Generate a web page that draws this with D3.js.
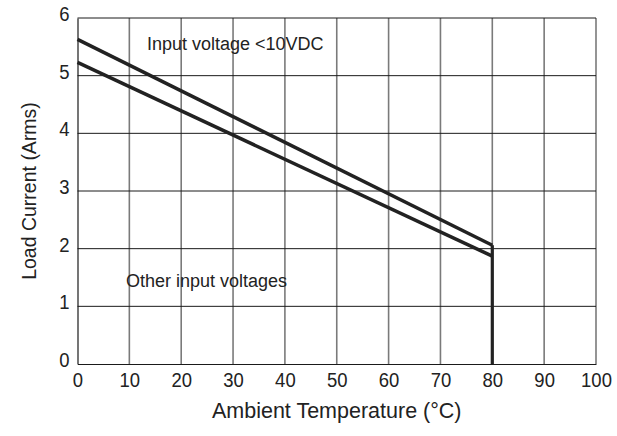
<!DOCTYPE html>
<html>
<head>
<meta charset="utf-8">
<script src="https://cdn.jsdelivr.net/npm/d3@7"></script>
<style>
  body { margin: 0; background: #fff; }
  svg text { font-family: "Liberation Sans", Arial, sans-serif; fill: #222; }
</style>
</head>
<body>
<svg id="chart" width="617" height="436"></svg>
<script>
// derating curves
const temps = [0, 80];
const lowVoltage = [5.63, 2.06];   // input voltage <10VDC
const otherVoltage = [5.23, 1.87]; // other input voltages
const xTicks = [0, 10, 20, 30, 40, 50, 60, 70, 80, 90, 100];
const yTicks = [0, 1, 2, 3, 4, 5, 6];

const margin = {top: 18, right: 21, bottom: 72, left: 77.5};
const width = 617, height = 436;

let svg = d3.select("#chart");

let x = d3.scaleLinear().domain([0, 100]).range([margin.left, width - margin.right]);
let y = d3.scaleLinear().domain([0, 6]).range([height - margin.bottom, margin.top]);

// vertical grid (gray)
svg.append("g")
  .selectAll("line")
  .data(xTicks.slice(1))
  .join("line")
  .attr("x1", d => x(d)).attr("x2", d => x(d))
  .attr("y1", y(0)).attr("y2", y(6))
  .attr("stroke", "#7a7a7a")
  .attr("stroke-width", 1.6);

// horizontal grid (dark)
svg.append("g")
  .selectAll("line")
  .data(yTicks.slice(1))
  .join("line")
  .attr("x1", x(0)).attr("x2", x(100))
  .attr("y1", d => y(d)).attr("y2", d => y(d))
  .attr("stroke", "#1a1a1a")
  .attr("stroke-width", 1);

// axes - tick labels are a narrow face, so squeeze them a bit
let xAxis = svg.append("g")
  .attr("transform", "translate(0," + y(0) + ")")
  .call(d3.axisBottom(x).tickValues(xTicks).tickSize(0).tickPadding(8).tickFormat(d3.format("d")));
xAxis.select(".domain").attr("stroke", "#1a1a1a").attr("stroke-width", 1.2);
xAxis.selectAll(".tick text").attr("font-size", 21).attr("fill", "#222")
  .attr("transform", "scale(0.88,1)");

let yAxis = svg.append("g")
  .attr("transform", "translate(" + x(0) + ",0)")
  .call(d3.axisLeft(y).tickValues(yTicks).tickSize(0).tickPadding(9).tickFormat(d3.format("d")));
yAxis.select(".domain").attr("stroke", "#1a1a1a").attr("stroke-width", 1.2);
yAxis.selectAll(".tick text").attr("font-size", 21).attr("fill", "#222").attr("dy", "0.12em")
  .attr("transform", "scale(0.88,1)");

// curves
let line = d3.line()
  .x((d, i) => x(temps[i]))
  .y(d => y(d));

[lowVoltage, otherVoltage].forEach(function(series) {
  svg.append("path")
    .datum(series)
    .attr("d", line)
    .attr("fill", "none")
    .attr("stroke", "#222")
    .attr("stroke-width", 3.5);
});

// cut-off at 80 C
svg.append("line")
  .attr("x1", x(temps[1])).attr("x2", x(temps[1]))
  .attr("y1", y(lowVoltage[1])).attr("y2", y(0))
  .attr("stroke", "#222")
  .attr("stroke-width", 3.2);

// annotations
svg.append("text").attr("x", 147).attr("y", 50).attr("font-size", 18)
  .text("Input voltage <10VDC");
svg.append("text").attr("x", 126).attr("y", 287).attr("font-size", 18)
  .text("Other input voltages");

// axis titles
svg.append("text")
  .attr("x", (x(0) + x(100)) / 2).attr("y", 418)
  .attr("text-anchor", "middle").attr("font-size", 21.5)
  .text("Ambient Temperature (°C)");

svg.append("text")
  .attr("transform", "translate(36," + ((y(0) + y(6)) / 2) + ") rotate(-90)")
  .attr("text-anchor", "middle").attr("font-size", 19.5)
  .text("Load Current (Arms)");
</script>
</body>
</html>
